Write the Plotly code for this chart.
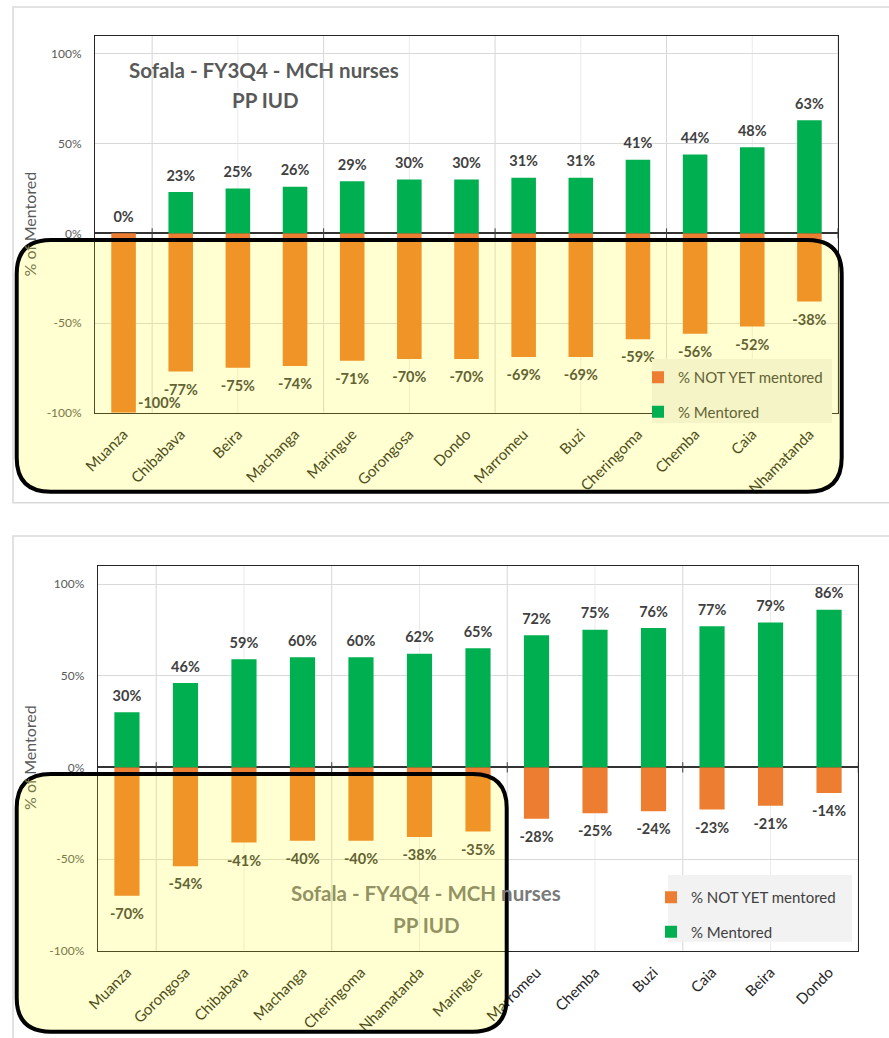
import plotly.graph_objects as go
import numpy as np

# ---------------- data ----------------
cats1 = ["Muanza", "Chibabava", "Beira", "Machanga", "Maringue", "Gorongosa", "Dondo",
         "Marromeu", "Buzi", "Cheringoma", "Chemba", "Caia", "Nhamatanda"]
mentored1 = [0, 23, 25, 26, 29, 30, 30, 31, 31, 41, 44, 48, 63]
notyet1 = [-100, -77, -75, -74, -71, -70, -70, -69, -69, -59, -56, -52, -38]

cats2 = ["Muanza", "Gorongosa", "Chibabava", "Machanga", "Cheringoma", "Nhamatanda", "Maringue",
         "Marromeu", "Chemba", "Buzi", "Caia", "Beira", "Dondo"]
mentored2 = [30, 46, 59, 60, 60, 62, 65, 72, 75, 76, 77, 79, 86]
notyet2 = [-70, -54, -41, -40, -40, -38, -35, -28, -25, -24, -23, -21, -14]

ytickvals = [-100, -50, 0, 50, 100]
yticktext = ["-100%", "-50%", "0%", "50%", "100%"]
title1 = ["Sofala - FY3Q4 - MCH nurses", "PP IUD"]
title2 = ["Sofala - FY4Q4 - MCH", " nurses", "PP IUD"]
name_not = "% NOT YET mentored"
name_ment = "% Mentored"

# ---------------- style ----------------
W, H = 889, 1038
FONT = "Lato"
GREEN = "#00B050"
ORANGE = "#ED7D31"
LABEL = "#404040"
YMIN, YMAX = -100, 110
ALPHA = 0.18


def tint(hexcol, a=ALPHA):
    h = hexcol.lstrip("#")
    r, g, b = int(h[0:2], 16), int(h[2:4], 16), int(h[4:6], 16)
    r = round(r * (1 - a) + 255 * a)
    g = round(g * (1 - a) + 255 * a)
    b = round(b * (1 - a))
    return "#%02X%02X%02X" % (r, g, b)


def px(x):
    return x / W


def py(y):
    return 1 - y / H


def rounded_path(x0, y0, x1, y1, r):
    def P(x, y):
        return f"{px(x):.5f},{py(y):.5f}"
    return (f"M {P(x0 + r, y0)} L {P(x1 - r, y0)} Q {P(x1, y0)} {P(x1, y0 + r)} "
            f"L {P(x1, y1 - r)} Q {P(x1, y1)} {P(x1 - r, y1)} L {P(x0 + r, y1)} "
            f"Q {P(x0, y1)} {P(x0, y1 - r)} L {P(x0, y0 + r)} Q {P(x0, y0)} {P(x0 + r, y0)} Z")


fig = go.Figure()

charts = [
    dict(cats=cats1, ment=mentored1, nyet=notyet1, xa="x", ya="y", leg="legend",
         xdom=[95, 838], ydom=[36, 412.7]),
    dict(cats=cats2, ment=mentored2, nyet=notyet2, xa="x2", ya="y2", leg="legend2",
         xdom=[97.7, 858.3], ydom=[565.7, 950.7]),
]

shapes = []
annotations = []
for c in charts:
    n = len(c["cats"])
    fig.add_trace(go.Bar(x=c["cats"], y=c["nyet"], name=name_not, marker_color=ORANGE,
                         marker_line_width=0, width=0.43, xaxis=c["xa"], yaxis=c["ya"],
                         legend=c["leg"], legendgroup=c["leg"] + "a"))
    fig.add_trace(go.Bar(x=c["cats"], y=c["ment"], name=name_ment, marker_color=GREEN,
                         marker_line_width=0, width=0.43, xaxis=c["xa"], yaxis=c["ya"],
                         legend=c["leg"], legendgroup=c["leg"] + "b"))
    # data labels
    fig.add_trace(go.Scatter(x=c["cats"], y=c["ment"], mode="markers+text",
                             text=[f"{v}%" for v in c["ment"]], textposition="top center",
                             marker=dict(size=11, color="rgba(0,0,0,0)"),
                             textfont=dict(family=FONT, size=14.5, color=LABEL, weight="bold"),
                             cliponaxis=False, showlegend=False, hoverinfo="skip",
                             xaxis=c["xa"], yaxis=c["ya"]))
    inner = [(k, v) for k, v in zip(c["cats"], c["nyet"]) if v > YMIN]
    fig.add_trace(go.Scatter(x=[k for k, v in inner], y=[v for k, v in inner], mode="markers+text",
                             text=[f"{v}%" for k, v in inner], textposition="bottom center",
                             marker=dict(size=18, color="rgba(0,0,0,0)"),
                             textfont=dict(family=FONT, size=14.5, color=LABEL, weight="bold"),
                             cliponaxis=False, showlegend=False, hoverinfo="skip",
                             xaxis=c["xa"], yaxis=c["ya"]))
    # labels of bars reaching the axis floor go beside the bar
    for k, v in zip(c["cats"], c["nyet"]):
        if v <= YMIN:
            annotations.append(dict(xref=c["xa"], yref=c["ya"], x=k, y=v, text=f"{v}%", showarrow=False,
                                    xanchor="left", yanchor="middle", xshift=12, yshift=10,
                                    font=dict(family=FONT, size=14.5, color=tint(LABEL), weight="bold")))
    # vertical gridlines (major every 3 categories, minor in between)
    gx = np.arange(0.5, n, 1.5)
    for k, g in enumerate(gx):
        major = (k % 2 == 0)
        shapes.append(dict(type="line", xref=c["xa"], yref=c["ya"] + " domain", x0=g, x1=g, y0=0, y1=1,
                           line=dict(color="#D6D6D6" if major else "#EBEBEB", width=1), layer="below"))
        if major:
            shapes.append(dict(type="line", xref=c["xa"], yref=c["ya"], x0=g, x1=g, y0=-2.8, y1=2.8,
                               line=dict(color="#404040", width=1), layer="above"))

# outer panels
shapes.append(dict(type="rect", xref="paper", yref="paper", x0=px(13), x1=px(900), y0=py(7), y1=py(502.7),
                   line=dict(color="#D9D9D9", width=1.5), fillcolor="rgba(0,0,0,0)", layer="below"))
shapes.append(dict(type="rect", xref="paper", yref="paper", x0=px(13), x1=px(900), y0=py(536), y1=py(1045),
                   line=dict(color="#D9D9D9", width=1.5), fillcolor="rgba(0,0,0,0)", layer="below"))
# legend backgrounds
shapes.append(dict(type="rect", xref="paper", yref="paper", x0=px(652), x1=px(832), y0=py(359), y1=py(423),
                   line=dict(width=0), fillcolor="#F2F2F2", layer="above"))
shapes.append(dict(type="rect", xref="paper", yref="paper", x0=px(668), x1=px(852), y0=py(875), y1=py(941.7),
                   line=dict(width=0), fillcolor="#F2F2F2", layer="above"))
# yellow highlight boxes
for (x0, y0, x1, y1) in [(16.7, 240, 841.7, 491.7), (16.7, 774, 506.7, 1031.7)]:
    shapes.append(dict(type="path", xref="paper", yref="paper", path=rounded_path(x0, y0, x1, y1, 34),
                       fillcolor=f"rgba(255,255,0,{ALPHA})", line=dict(color="black", width=4), layer="above"))


def ann(x, y, text, size, color, bold=True, angle=0):
    return dict(xref="paper", yref="paper", x=px(x), y=py(y), text=text, showarrow=False,
                xanchor="center", yanchor="middle", textangle=angle,
                font=dict(family=FONT, size=size, color=color, weight="bold" if bold else "normal"))


# titles
annotations.append(ann(264, 70, title1[0], 20.5, "#595959"))
annotations.append(ann(265, 100, title1[1], 20.5, "#595959"))
T2 = "#7A7A7A"
annotations.append(ann(426, 893, f"<span style='color:{tint(T2)}'>{title2[0]}</span>{title2[1]}", 20.5, T2))
annotations.append(ann(426, 925, title2[2], 20.5, tint(T2)))
# y-axis titles
for yc in [224.5, 758]:
    annotations.append(ann(29, yc, f"<span style='color:{tint('#595959')}'>% of</span> Mentored", 16,
                           "#595959", bold=False, angle=-90))


def xaxis_cfg(dom, anchor, n):
    return dict(domain=[px(dom[0]), px(dom[1])], anchor=anchor, type="category",
                range=[-0.5, n - 0.5], autorange=False, automargin=False,
                showgrid=False, showline=True, mirror=True, linecolor="#262626", linewidth=1,
                tickangle=-45, tickfont=dict(family=FONT, size=15, color="#262626"), ticks="",
                ticklabelstandoff=6, zeroline=False, fixedrange=True)


def yaxis_cfg(dom, anchor):
    return dict(domain=[py(dom[1]), py(dom[0])], anchor=anchor, range=[YMIN, YMAX], autorange=False,
                automargin=False,
                tickvals=ytickvals, ticktext=yticktext, showgrid=True, gridcolor="#D9D9D9", gridwidth=1,
                showline=True, mirror=True, linecolor="#262626", linewidth=1,
                zeroline=True, zerolinecolor="#333333", zerolinewidth=1.5,
                tickfont=dict(family=FONT, size=12, color="#595959"), ticks="", ticklabelstandoff=10,
                fixedrange=True)


fig.update_layout(
    width=W, height=H, autosize=False,
    margin=dict(l=0, r=0, t=0, b=0, autoexpand=False),
    paper_bgcolor="white", plot_bgcolor="rgba(0,0,0,0)",
    barmode="relative", bargap=0.57,
    xaxis=xaxis_cfg(charts[0]["xdom"], "y", len(cats1)),
    yaxis=yaxis_cfg(charts[0]["ydom"], "x"),
    xaxis2=xaxis_cfg(charts[1]["xdom"], "y2", len(cats2)),
    yaxis2=yaxis_cfg(charts[1]["ydom"], "x2"),
    legend=dict(x=px(638), y=py(361), xanchor="left", yanchor="top", bgcolor="rgba(0,0,0,0)",
                font=dict(family=FONT, size=15, color=tint("#404040")), traceorder="grouped",
                tracegroupgap=12),
    legend2=dict(x=px(651), y=py(881), xanchor="left", yanchor="top", bgcolor="rgba(0,0,0,0)",
                 font=dict(family=FONT, size=15, color="#404040"), traceorder="grouped",
                 tracegroupgap=12),
    shapes=shapes,
    annotations=annotations,
    showlegend=True,
)

fig.write_html("out.html")
